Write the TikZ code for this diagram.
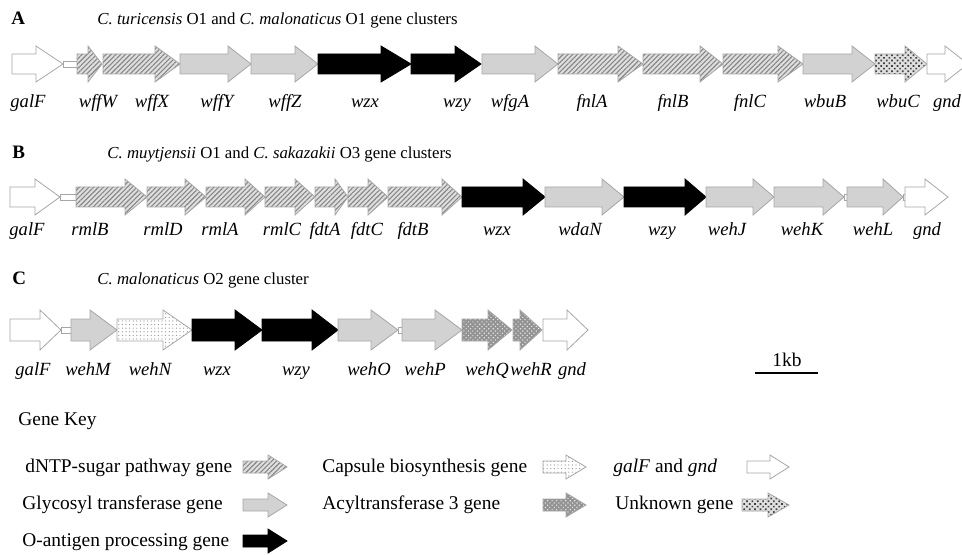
\documentclass[tikz,border=0pt]{standalone}
\usepackage{fontspec}
\setmainfont{Liberation Serif}
\usetikzlibrary{patterns,patterns.meta}

\begin{document}
\begin{tikzpicture}[x=0.5pt,y=-0.5pt,
    gene/.style={draw=gray!70, line width=0.4pt},
    dntp/.style={gene, preaction={fill=gray!25}, pattern={Lines[angle=45,distance=1.7pt,line width=0.55pt]}, pattern color=gray!95},
    gt/.style={gene, fill=gray!35},
    oag/.style={gene, draw=black, fill=black},
    caps/.style={gene, preaction={fill=white}, pattern={Dots[radius=0.3pt,distance=1.8pt]}, pattern color=gray!90},
    acyl/.style={gene, preaction={fill=gray!85}, pattern={Dots[radius=0.4pt,distance=1.6pt,angle=45]}, pattern color=gray!20},
    flank/.style={gene, fill=white},
    unkn/.style={gene, preaction={fill=gray!25}, pattern={Dots[radius=0.6pt,distance=1.9pt,angle=45]}, pattern color=black!75},
    spacer/.style={draw=gray!70, fill=white, line width=0.4pt},
    genelab/.style={font=\fontsize{9.3}{11}\selectfont\itshape, anchor=base, inner sep=0pt},
    paneltag/.style={font=\fontsize{9.5}{11}\selectfont\bfseries, anchor=base west, inner sep=0pt},
    rowtitle/.style={font=\fontsize{8.4}{10}\selectfont, anchor=base west, inner sep=0pt},
    keytext/.style={font=\fontsize{9.7}{11}\selectfont, anchor=base west, inner sep=0pt}]
    \useasboundingbox (0,0) rectangle (962,555);
    \clip (0,0) rectangle (962,555);

    % Panel A
    \node[paneltag] (tagA) at (11,25) {A};
    \node[rowtitle] (titleA) at (97,25) {\textit{C. turicensis} O1 and \textit{C. malonaticus} O1 gene clusters};
    \begin{scope}[shift={(0,64)}]
        \def\bodyh{10}\def\headh{18}
        \draw[spacer] (63,-3) rectangle (77,3);
        \foreach \x/\h/\t/\st/\lx/\nm in {12/36/63/flank/28/galF, 77/88/102/dntp/98/wffW,
            103/155/180/dntp/152/wffX, 180/228/251/gt/217/wffY, 251/295/318/gt/285/wffZ,
            318/381/411/oag/365/wzx, 411/455/481/oag/457/wzy, 482/535/558/gt/510/wfgA,
            558/618/643/dntp/592/fnlA, 643/700/723/dntp/673/fnlB, 723/778/803/dntp/750/fnlC,
            803/852/875/gt/825/wbuB, 875/905/927/unkn/898/wbuC, 927/945/968/flank/947/gnd}{
            \draw[\st] (\x,-\bodyh) -- (\h,-\bodyh) -- (\h,-\headh) -- (\t,0) -- (\h,\headh) -- (\h,\bodyh) -- (\x,\bodyh) -- cycle;
            \node[genelab] (A-\nm) at (\lx,44) {\nm};
        }
    \end{scope}

    % Panel B
    \node[paneltag] (tagB) at (12,159) {B};
    \node[rowtitle] (titleB) at (107,159) {\textit{C. muytjensii} O1 and \textit{C. sakazakii} O3 gene clusters};
    \begin{scope}[shift={(0,197)}]
        \def\bodyh{10}\def\headh{18}
        \draw[spacer] (60,-3) rectangle (76,3);
        \draw[spacer] (844,-3) rectangle (847,3);
        \draw[spacer] (903,-3) rectangle (905,3);
        \foreach \x/\h/\t/\st/\lx/\nm in {10/35/60/flank/27/galF, 76/125/147/dntp/90/rmlB,
            147/185/206/dntp/163/rmlD, 206/245/265/dntp/220/rmlA, 265/295/315/dntp/282/rmlC,
            315/335/348/dntp/325/fdtA, 348/368/388/dntp/367/fdtC, 388/442/462/dntp/413/fdtB,
            462/523/545/oag/497/wzx, 545/602/624/gt/580/wdaN, 624/685/706/oag/662/wzy,
            706/753/774/gt/727/wehJ, 774/823/844/gt/802/wehK, 847/883/903/gt/873/wehL,
            905/925/948/flank/927/gnd}{
            \draw[\st] (\x,-\bodyh) -- (\h,-\bodyh) -- (\h,-\headh) -- (\t,0) -- (\h,\headh) -- (\h,\bodyh) -- (\x,\bodyh) -- cycle;
            \node[genelab] (B-\nm) at (\lx,39) {\nm};
        }
    \end{scope}

    % Panel C
    \node[paneltag] (tagC) at (12,285) {C};
    \node[rowtitle] (titleC) at (97,285) {\textit{C. malonaticus} O2 gene cluster};
    \begin{scope}[shift={(0,330)}]
        \def\bodyh{11}\def\headh{20}
        \draw[spacer] (61,-3) rectangle (71,3);
        \draw[spacer] (398,-3) rectangle (402,3);
        \foreach \x/\h/\t/\st/\lx/\nm in {10/40/61/flank/33/galF, 71/90/117/gt/88/wehM,
            117/163/192/caps/150/wehN, 192/235/262/oag/217/wzx, 262/312/338/oag/296/wzy,
            338/371/398/gt/369/wehO, 402/435/462/gt/425/wehP, 462/488/512/acyl/487/wehQ,
            513/520/542/acyl/531/wehR, 543/567/588/flank/572/gnd}{
            \draw[\st] (\x,-\bodyh) -- (\h,-\bodyh) -- (\h,-\headh) -- (\t,0) -- (\h,\headh) -- (\h,\bodyh) -- (\x,\bodyh) -- cycle;
            \node[genelab] (C-\nm) at (\lx,45) {\nm};
        }
    \end{scope}

    % scale bar
    \node[keytext, anchor=base] (kb) at (787,366) {1kb};
    \coordinate (sbL) at (755,373);
    \coordinate (sbR) at (818,373);
    \draw[line width=0.7pt] (sbL) -- (sbR);

    % Gene key
    \node[keytext] (keyhead) at (18,425) {Gene Key};
    \foreach \x/\h/\t/\y/\st in {243/268/287/467/dntp, 243/268/287/505/gt, 243/268/287/541/oag,
        543/566/586/467/caps, 543/566/586/505/acyl, 747/770/789/467/flank, 742/768/789/505/unkn}{
        \draw[\st] (\x,\y-6) -- (\h,\y-6) -- (\h,\y-12) -- (\t,\y) -- (\h,\y+12) -- (\h,\y+6) -- (\x,\y+6) -- cycle;
    }
    \node[keytext] (k-dntp) at (25,472) {dNTP-sugar pathway gene};
    \node[keytext] (k-gt) at (22,509) {Glycosyl transferase gene};
    \node[keytext] (k-oag) at (22,546) {O-antigen processing gene};
    \node[keytext] (k-caps) at (322,472) {Capsule biosynthesis gene};
    \node[keytext] (k-acyl) at (322,509) {Acyltransferase 3 gene};
    \node[keytext] (k-flank) at (613,472) {\textit{galF} and \textit{gnd}};
    \node[keytext] (k-unkn) at (615,509) {Unknown gene};
\end{tikzpicture}
\end{document}
